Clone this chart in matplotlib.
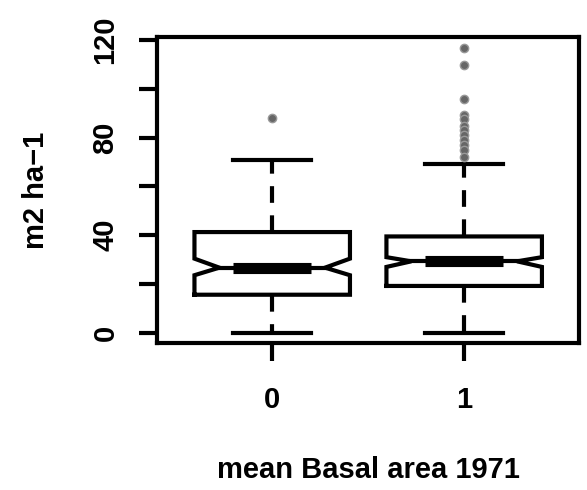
import matplotlib.pyplot as plt
import numpy as np

plt.rcParams['font.family'] = ['Liberation Sans', 'DejaVu Sans']

# groups and box statistics
groups = ["0", "1"]
medians = [26.7, 29.3]
q1s = [15.6, 19.2]
q3s = [41.3, 39.5]
whis_lo = [0.0, 0.0]
whis_hi = [70.9, 69.4]
ci_lo = [23.6, 27.0]
ci_hi = [30.4, 31.0]
outliers = [
    [88.0],
    [116.7, 110.0, 95.7, 89.5, 87.5, 85.0, 83.0, 81.0, 79.0, 77.0, 75.0, 72.0],
]
y_ticks = [0, 20, 40, 60, 80, 100, 120]
y_labels = ["0", "", "40", "", "80", "", "120"]


def main():
    fig = plt.figure(figsize=(5.87, 4.9), dpi=100)
    ax = fig.add_axes([0.2675, 0.3, 0.7195, 0.6245])

    positions = np.arange(1, len(groups) + 1)
    width = 0.81
    notch_frac = 0.68

    stats = []
    for i in range(len(groups)):
        stats.append({
            "med": medians[i], "q1": q1s[i], "q3": q3s[i],
            "whislo": whis_lo[i], "whishi": whis_hi[i],
            "cilo": ci_lo[i], "cihi": ci_hi[i],
            "fliers": outliers[i],
        })

    # notches on so the median bar spans half the box; box drawn below
    ax.bxp(stats, positions=positions, widths=width, showbox=False,
           shownotches=True,
           whiskerprops=dict(color="black", lw=3, linestyle=(0, (4, 3))),
           capprops=dict(color="black", lw=3),
           medianprops=dict(color="black", lw=8, solid_capstyle="butt"),
           flierprops=dict(marker="o", markersize=6, markerfacecolor="#666666",
                           markeredgecolor="#999999", markeredgewidth=1))

    # notched box outlines plus thin median between the notch tips
    for i, pos in enumerate(positions):
        hw = width / 2
        nw = hw * notch_frac
        xs = [pos - hw, pos + hw, pos + hw, pos + nw, pos + hw, pos + hw,
              pos - hw, pos - hw, pos - nw, pos - hw, pos - hw]
        ys = [q1s[i], q1s[i], ci_lo[i], medians[i], ci_hi[i], q3s[i],
              q3s[i], ci_hi[i], medians[i], ci_lo[i], q1s[i]]
        ax.plot(xs, ys, color="black", lw=3, solid_joinstyle="miter", zorder=1)
        ax.plot([pos - nw, pos + nw], [medians[i], medians[i]],
                color="black", lw=3, zorder=1)

    ax.set_xlim(0.4, 2.6)
    ax.set_ylim(-4.2, 121.3)
    ax.set_xticks(positions)
    ax.set_xticklabels(groups)
    ax.set_yticks(y_ticks)
    ax.set_yticklabels(y_labels, rotation=90, va="center")

    for s in ax.spines.values():
        s.set_linewidth(3)
    ax.tick_params(axis="both", length=13, width=3, pad=18, labelsize=21)
    ax.tick_params(axis="y", pad=14)
    for lab in ax.get_xticklabels() + ax.get_yticklabels():
        lab.set_fontweight("bold")

    ax.set_xlabel("mean Basal area 1971", fontsize=21, fontweight="bold",
                  labelpad=30)
    ax.set_ylabel("m2 ha\u22121", fontsize=21, fontweight="bold", labelpad=30)

    fig.savefig("out.png", dpi=100)


if __name__ == "__main__":
    main()
